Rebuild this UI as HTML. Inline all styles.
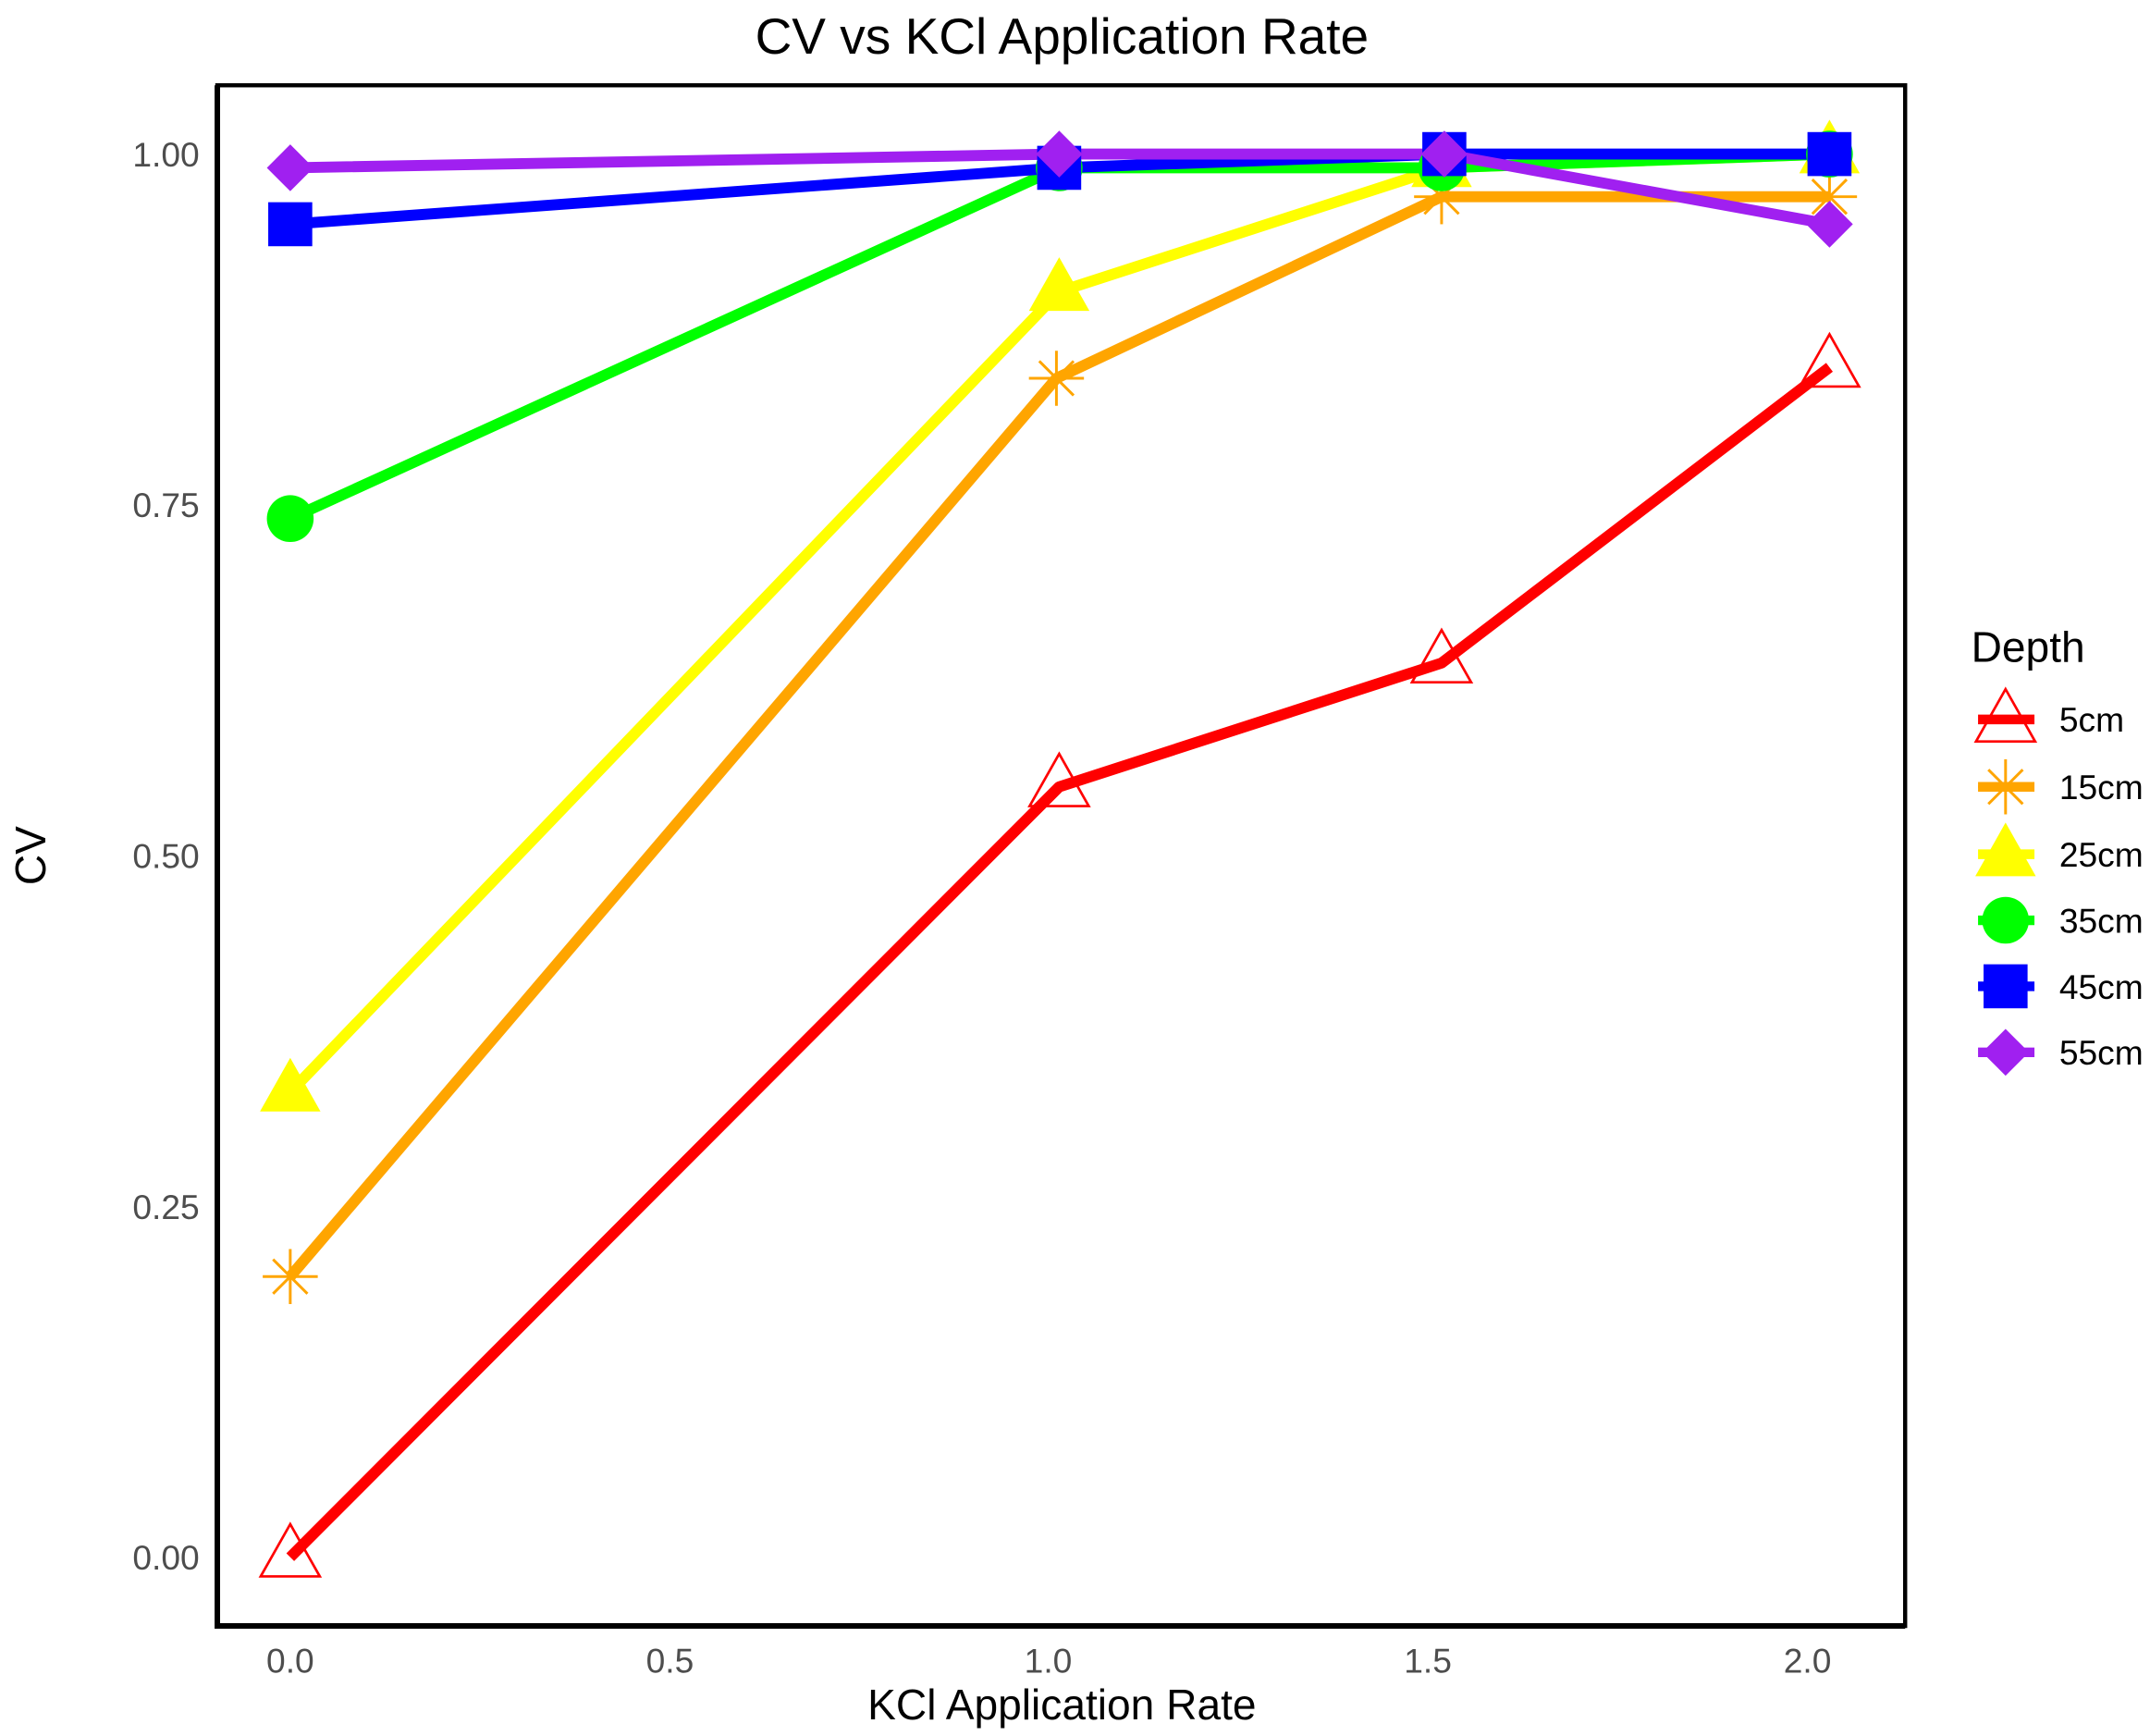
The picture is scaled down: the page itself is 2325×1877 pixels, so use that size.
<!DOCTYPE html>
<html><head><meta charset="utf-8"><style>
html,body{margin:0;padding:0;background:#fff;}
svg{display:block;}
text{font-family:"Liberation Sans",Arial,sans-serif;}
</style></head><body>
<svg width="2325" height="1877" viewBox="0 0 1563 1262" preserveAspectRatio="none" xmlns="http://www.w3.org/2000/svg">
<rect width="1563" height="1262" fill="#fff"/>
<text x="772" y="39" font-size="37" text-anchor="middle" fill="#000">CV vs KCl Application Rate</text>
<rect x="158" y="62" width="1227" height="1120" fill="none" stroke="#000" stroke-width="3"/>
<line x1="158" y1="1182" x2="1385" y2="1182" stroke="#000" stroke-width="4"/>
<line x1="158" y1="62" x2="158" y2="1184" stroke="#000" stroke-width="4"/>
<g font-size="25" fill="#4d4d4d" text-anchor="end">
<text x="145" y="121">1.00</text>
<text x="145" y="376">0.75</text>
<text x="145" y="631">0.50</text>
<text x="145" y="886">0.25</text>
<text x="145" y="1141">0.00</text>
</g>
<g font-size="25" fill="#4d4d4d" text-anchor="middle">
<text x="211" y="1216">0.0</text>
<text x="487" y="1216">0.5</text>
<text x="762" y="1216">1.0</text>
<text x="1038" y="1216">1.5</text>
<text x="1314" y="1216">2.0</text>
</g>
<text x="772" y="1250" font-size="31" text-anchor="middle" fill="#000">KCl Application Rate</text>
<text transform="translate(33,622) rotate(-90)" font-size="31" text-anchor="middle" fill="#000">CV</text>
<g fill="none" stroke-width="8" stroke-linejoin="round">
<polyline points="211,1132 770,572 1048,482 1330,267" stroke="#ff0000"/>
<polyline points="211,928 768,275 1048,143 1330,143" stroke="#ffa500"/>
<polyline points="211,794 770,212 1048,122 1330,112" stroke="#ffff00"/>
<polyline points="211,377 770,122 1048,122 1330,112" stroke="#00ff00"/>
<polyline points="211,163 770,122 1050,112 1330,112" stroke="#0000ff"/>
<polyline points="211,122 770,112 1050,112 1330,163" stroke="#a020f0"/>
</g>
<defs>
<g id="otri"><polygon points="0,-24 21.5,14 -21.5,14" fill="none" stroke="#ff0000" stroke-width="1.8"/></g>
<g id="ast" stroke="#ffa500" stroke-width="2"><line x1="-20" y1="0" x2="20" y2="0"/><line x1="0" y1="-20" x2="0" y2="20"/><line x1="-12.5" y1="-12.5" x2="12.5" y2="12.5"/><line x1="-12.5" y1="12.5" x2="12.5" y2="-12.5"/></g>
<g id="ftri"><polygon points="0,-25 22,14 -22,14" fill="#ffff00"/></g>
<g id="circ"><circle r="17" fill="#00ff00"/></g>
<g id="sq"><rect x="-16" y="-16" width="32" height="32" fill="#0000ff"/></g>
<g id="dia"><polygon points="0,-17 17,0 0,17 -17,0" fill="#a020f0"/></g>
</defs>
<use href="#otri" x="211" y="1132"/><use href="#otri" x="770" y="572"/><use href="#otri" x="1048" y="482"/><use href="#otri" x="1330" y="267"/>
<use href="#ast" x="211" y="928"/><use href="#ast" x="768" y="275"/><use href="#ast" x="1048" y="143"/><use href="#ast" x="1330" y="143"/>
<use href="#ftri" x="211" y="794"/><use href="#ftri" x="770" y="212"/><use href="#ftri" x="1048" y="122"/><use href="#ftri" x="1330" y="112"/>
<use href="#circ" x="211" y="377"/><use href="#circ" x="770" y="122"/><use href="#circ" x="1048" y="122"/><use href="#circ" x="1330" y="112"/>
<use href="#sq" x="211" y="163"/><use href="#sq" x="770" y="122"/><use href="#sq" x="1050" y="112"/><use href="#sq" x="1330" y="112"/>
<use href="#dia" x="211" y="122"/><use href="#dia" x="770" y="112"/><use href="#dia" x="1050" y="112"/><use href="#dia" x="1330" y="163"/>
<text x="1433" y="481" font-size="31" fill="#000">Depth</text>
<g stroke-width="7">
<line x1="1438" y1="523" x2="1479" y2="523" stroke="#ff0000"/>
<line x1="1438" y1="572" x2="1479" y2="572" stroke="#ffa500"/>
<line x1="1438" y1="621" x2="1479" y2="621" stroke="#ffff00"/>
<line x1="1438" y1="669" x2="1479" y2="669" stroke="#00ff00"/>
<line x1="1438" y1="717" x2="1479" y2="717" stroke="#0000ff"/>
<line x1="1438" y1="765" x2="1479" y2="765" stroke="#a020f0"/>
</g>
<use href="#otri" x="1458" y="525"/>
<use href="#ast" x="1458" y="572"/>
<use href="#ftri" x="1458" y="623"/>
<use href="#circ" x="1458" y="669"/>
<use href="#sq" x="1458" y="717"/>
<use href="#dia" x="1458" y="765"/>
<g font-size="25" fill="#000">
<text x="1497" y="532">5cm</text>
<text x="1497" y="581">15cm</text>
<text x="1497" y="630">25cm</text>
<text x="1497" y="678">35cm</text>
<text x="1497" y="726">45cm</text>
<text x="1497" y="774">55cm</text>
</g>
</svg>
</body></html>
